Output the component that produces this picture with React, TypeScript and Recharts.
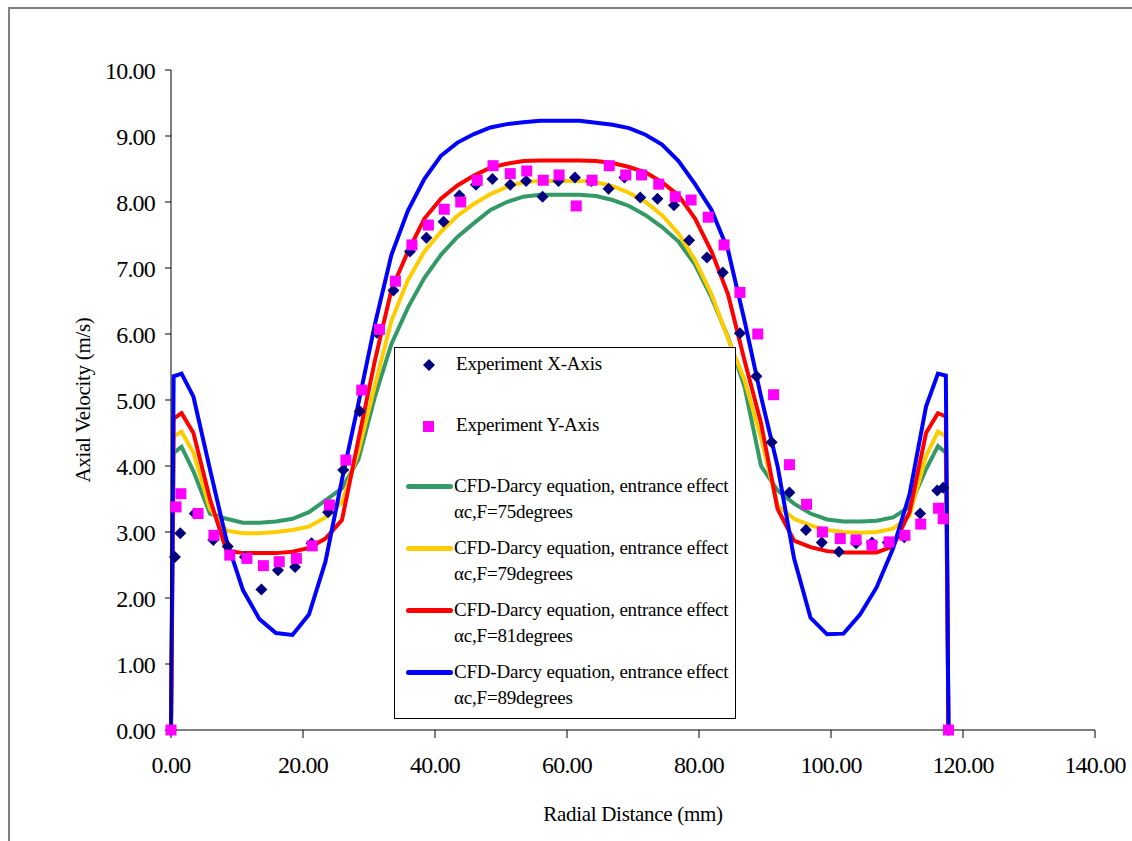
import { ComposedChart, Line, Scatter, XAxis, YAxis } from "recharts";

// radial positions of the CFD profiles (mm)
const cfdX = [
  0, 0.4, 1.6, 3.4, 5.9, 8.4, 10.9, 13.4, 15.9, 18.4, 20.9, 23.4, 25.9, 28.4, 30.9, 33.4, 35.9,
  38.4, 40.9, 43.4, 45.9, 48.4, 50.9, 53.4, 55.9, 58.9, 61.9, 64.4, 66.9, 69.4, 71.9, 74.4, 76.9,
  79.4, 81.9, 84.4, 86.9, 89.4, 91.9, 94.4, 96.9, 99.4, 101.9, 104.4, 106.9, 109.4, 111.9, 114.4,
  116.2, 117.4, 117.8,
];

const cfd75 = [
  0, 4.2, 4.29, 3.92, 3.28, 3.2, 3.14, 3.14, 3.16, 3.2, 3.3, 3.48, 3.66, 4.1, 5.05, 5.85, 6.4,
  6.85, 7.2, 7.47, 7.68, 7.88, 8.0, 8.08, 8.11, 8.11, 8.11, 8.09, 8.03, 7.94, 7.8, 7.62, 7.4,
  7.05, 6.55, 5.95, 5.2, 4.0, 3.63, 3.43, 3.28, 3.19, 3.16, 3.16, 3.17, 3.22, 3.38, 3.95,
  4.3, 4.2, 0,
];

const cfd79 = [
  0, 4.45, 4.52, 4.2, 3.35, 3.02, 2.98, 2.98, 3.0, 3.03, 3.08, 3.22, 3.45, 4.22, 5.22, 6.2, 6.82,
  7.25, 7.55, 7.79, 7.97, 8.12, 8.23, 8.3, 8.32, 8.32, 8.32, 8.3, 8.24, 8.14, 8.0, 7.8, 7.52,
  7.12, 6.6, 5.93, 5.3, 4.42, 3.4, 3.2, 3.1, 3.03, 3.0, 2.99, 3.0, 3.05, 3.25, 4.15,
  4.52, 4.45, 0,
];

const cfd81 = [
  0, 4.72, 4.8, 4.5, 3.5, 2.72, 2.68, 2.68, 2.68, 2.7, 2.76, 2.9, 3.18, 4.4, 5.6, 6.67, 7.25,
  7.75, 8.05, 8.25, 8.4, 8.52, 8.58, 8.62, 8.63, 8.63, 8.63, 8.62, 8.59, 8.53, 8.45, 8.3, 8.1,
  7.75, 7.25, 6.6, 5.6, 4.65, 3.35, 2.87, 2.77, 2.71, 2.69, 2.69, 2.69, 2.78, 3.3, 4.5,
  4.8, 4.75, 0,
];

const cfd89 = [
  0, 5.36, 5.4, 5.05, 3.95, 2.88, 2.12, 1.68, 1.47, 1.44, 1.75, 2.55, 3.79, 4.95, 6.15, 7.2, 7.87,
  8.35, 8.7, 8.9, 9.03, 9.13, 9.18, 9.21, 9.23, 9.23, 9.23, 9.2, 9.17, 9.12, 9.02, 8.87, 8.62,
  8.27, 7.88, 7.27, 6.2, 5.05, 4.0, 2.6, 1.7, 1.45, 1.46, 1.75, 2.16, 2.75, 3.57, 4.9,
  5.4, 5.37, 0,
];

// experiment, X-axis traverse
const expXr = [
  0, 0.6, 1.4, 3.6, 6.4, 8.6, 11.2, 13.7, 16.2, 18.8, 21.3, 23.8, 26.1, 28.6, 31.2, 33.7, 36.2,
  38.7, 41.3, 43.7, 46.2, 48.7, 51.4, 53.8, 56.3, 58.7, 61.2, 63.7, 66.3, 68.7, 71.1, 73.7, 76.2,
  78.5, 81.2, 83.6, 86.2, 88.7, 91.0, 93.7, 96.2, 98.6, 101.2, 103.8, 106.2, 108.6, 111.1, 113.5,
  116.1, 117.0, 117.8,
];
const expXv = [
  0, 2.62, 2.98, 3.28, 2.88, 2.78, 2.62, 2.13, 2.42, 2.47, 2.83, 3.3, 3.94, 4.83, 6.02, 6.66, 7.25,
  7.46, 7.7, 8.1, 8.26, 8.35, 8.26, 8.32, 8.08, 8.32, 8.37, 8.32, 8.2, 8.37, 8.07, 8.05, 7.95,
  7.42, 7.16, 6.93, 6.01, 5.36, 4.36, 3.6, 3.03, 2.84, 2.7, 2.83, 2.84, 2.84, 2.92, 3.28,
  3.63, 3.67, 0,
];

// experiment, Y-axis traverse
const expYr = [
  0, 0.76, 1.5, 4.1, 6.5, 8.9, 11.5, 14.0, 16.4, 19.0, 21.4, 24.0, 26.5, 28.9, 31.6, 34.0, 36.5,
  39.0, 41.4, 43.9, 46.4, 48.8, 51.4, 53.9, 56.4, 58.8, 61.4, 63.8, 66.4, 68.9, 71.3, 73.9, 76.4,
  78.8, 81.4, 83.8, 86.2, 88.9, 91.3, 93.7, 96.3, 98.7, 101.4, 103.8, 106.2, 108.8, 111.2, 113.6,
  116.3, 117.0, 117.8,
];
const expYv = [
  0, 3.38, 3.58, 3.28, 2.95, 2.65, 2.6, 2.49, 2.55, 2.6, 2.79, 3.41, 4.09, 5.15, 6.07, 6.8, 7.35,
  7.65, 7.89, 8.0, 8.33, 8.55, 8.43, 8.47, 8.33, 8.41, 7.94, 8.33, 8.55, 8.41, 8.41, 8.27, 8.08,
  8.03, 7.77, 7.35, 6.63, 6.0, 5.08, 4.02, 3.42, 3.0, 2.9, 2.88, 2.8, 2.85, 2.95, 3.12,
  3.36, 3.2, 0,
];

const xTicks = [0, 20, 40, 60, 80, 100, 120, 140];
const yTicks = [0, 1, 2, 3, 4, 5, 6, 7, 8, 9, 10];

const lineLabel = "CFD-Darcy equation, entrance effect";
const curves = [
  { key: "c75", name: "αc,F=75degrees", color: "#339966", values: cfd75 },
  { key: "c79", name: "αc,F=79degrees", color: "#FFCC00", values: cfd79 },
  { key: "c81", name: "αc,F=81degrees", color: "#FF0000", values: cfd81 },
  { key: "c89", name: "αc,F=89degrees", color: "#0000FF", values: cfd89 },
];

const FONT = "'Liberation Serif', 'Times New Roman', serif";

const toPts = (xs: number[], ys: number[]) => xs.map((x, i) => ({ x, y: ys[i] }));

function Diamond(props: any) {
  const { cx, cy } = props;
  if (cx == null || cy == null) return null;
  const s = 6;
  return <path d={`M${cx},${cy - s}L${cx + s},${cy}L${cx},${cy + s}L${cx - s},${cy}Z`} fill="#000080" />;
}

function Square(props: any) {
  const { cx, cy } = props;
  if (cx == null || cy == null) return null;
  return <rect x={cx - 5.5} y={cy - 5.5} width={11} height={11} fill="#FF00FF" />;
}

// legend drawn as an overlay box, like the spreadsheet original
function LegendBox() {
  const text = {
    fontFamily: FONT,
    fontSize: 19,
    color: "#000",
    lineHeight: "22px",
    letterSpacing: -0.2,
    whiteSpace: "nowrap" as const,
    position: "absolute" as const,
  };
  return (
    <div
      style={{
        position: "absolute",
        left: 394,
        top: 347,
        width: 342,
        height: 372,
        border: "1px solid #000",
        background: "#fff",
        boxSizing: "border-box",
      }}
    >
      <svg width={14} height={14} style={{ position: "absolute", left: 27, top: 10 }}>
        <path d="M7,1L13,7L7,13L1,7Z" fill="#000080" />
      </svg>
      <div style={{ ...text, left: 61, top: 5 }}>Experiment X-Axis</div>
      <div style={{ position: "absolute", left: 28, top: 73, width: 11, height: 11, background: "#FF00FF" }} />
      <div style={{ ...text, left: 61, top: 66 }}>Experiment Y-Axis</div>
      {curves.map((c, i) => (
        <div key={c.key}>
          <div
            style={{
              position: "absolute",
              left: 11,
              top: 136 + i * 62,
              width: 47,
              height: 5,
              borderRadius: 3,
              background: c.color,
            }}
          />
          <div style={{ ...text, left: 59, top: 127 + i * 62 }}>{lineLabel}</div>
          <div style={{ ...text, left: 59, top: 153 + i * 62 }}>{c.name}</div>
        </div>
      ))}
    </div>
  );
}

export default function App() {
  const tickStyle = { fontFamily: FONT, fontSize: 24, fill: "#000", letterSpacing: -0.8 };
  const titleStyle = { fontFamily: FONT, fontSize: 21, fill: "#000", letterSpacing: -0.3 };
  return (
    <div style={{ position: "absolute", left: 0, top: 0, width: 1132, height: 841, background: "#fff" }}>
      <div
        style={{
          position: "absolute",
          left: 8,
          top: 7,
          right: 0,
          bottom: 0,
          borderLeft: "2px solid #808080",
          borderTop: "2px solid #808080",
        }}
      />
      <ComposedChart
        width={1132}
        height={841}
        margin={{ top: 70, right: 37, bottom: 0, left: 0 }}
        style={{ position: "absolute", left: 0, top: 0 }}
      >
        <XAxis
          type="number"
          dataKey="x"
          domain={[0, 140]}
          ticks={xTicks}
          tickFormatter={(v: number) => v.toFixed(2)}
          tick={tickStyle}
          tickSize={8}
          tickMargin={18}
          height={111}
          stroke="#808080"
          strokeWidth={2}
          tickLine={{ stroke: "#000", strokeWidth: 1 }}
          label={{
            value: "Radial Distance (mm)",
            position: "insideBottom",
            offset: 20,
            style: titleStyle,
          }}
        />
        <YAxis
          type="number"
          dataKey="y"
          domain={[0, 10]}
          ticks={yTicks}
          tickFormatter={(v: number) => v.toFixed(2)}
          tick={tickStyle}
          tickSize={6}
          tickMargin={10}
          width={171}
          stroke="#000"
          label={{
            value: "Axial Velocity (m/s)",
            angle: -90,
            position: "center",
            dx: -3,
            style: { ...titleStyle, textAnchor: "middle" },
          }}
        />
        {curves.map((c) => (
          <Line
            key={c.key}
            data={toPts(cfdX, c.values)}
            dataKey="y"
            type="linear"
            stroke={c.color}
            strokeWidth={4}
            dot={false}
            isAnimationActive={false}
            legendType="none"
          />
        ))}
        <Scatter data={toPts(expXr, expXv)} dataKey="y" shape={<Diamond />} isAnimationActive={false} />
        <Scatter data={toPts(expYr, expYv)} dataKey="y" shape={<Square />} isAnimationActive={false} />
      </ComposedChart>
      <LegendBox />
    </div>
  );
}
